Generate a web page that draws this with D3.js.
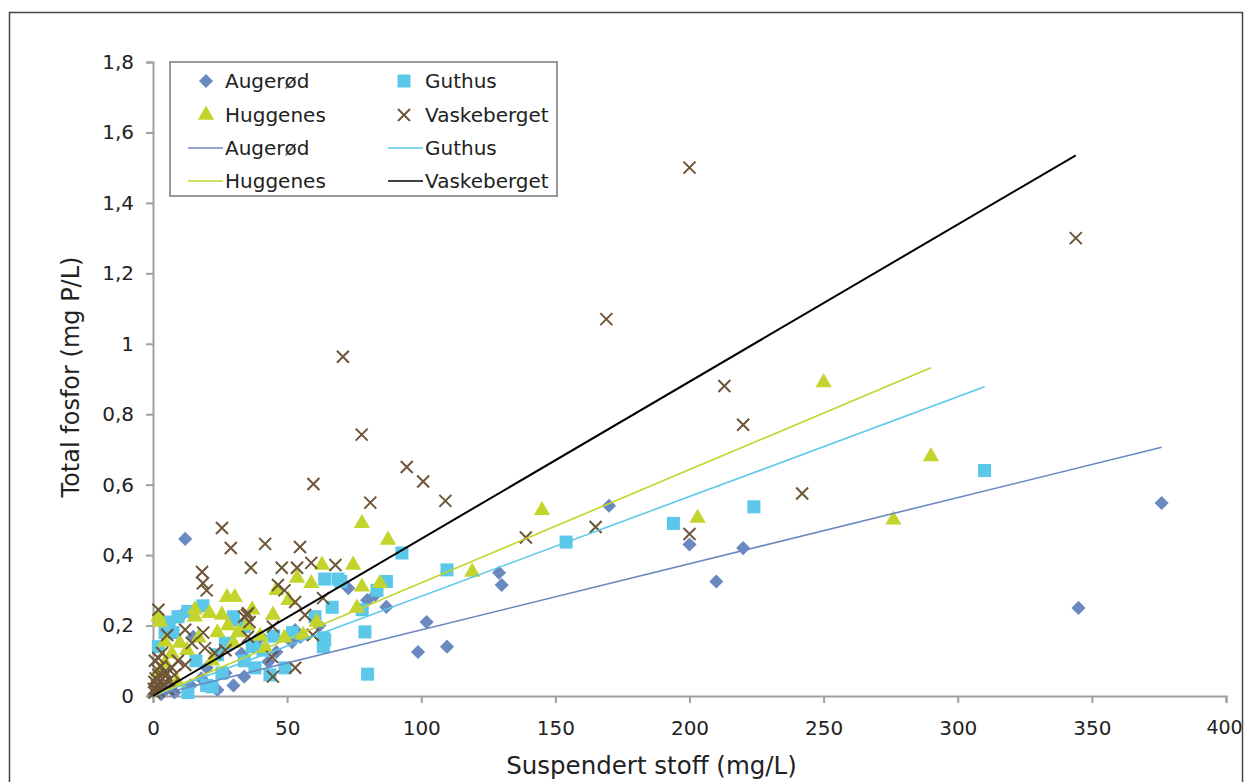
<!DOCTYPE html>
<html>
<head>
<meta charset="utf-8">
<script src="https://cdn.jsdelivr.net/npm/d3@7"></script>
<style>
  body { margin: 0; background: #fff; }
  text { font-family: "DejaVu Sans", sans-serif; fill: #222; }
</style>
</head>
<body>
<script>
// scatter data [suspended solids mg/L, total P mg P/L]
const augerod = [
  [12, 0.446], [9.3, 0.225], [10.8, 0.23], [15, 0.168], [27, 0.065], [24, 0.017],
  [33, 0.12], [34, 0.055], [30, 0.03], [8, 0.01], [72.8, 0.306], [79.8, 0.272],
  [82.8, 0.287], [87, 0.253], [102, 0.21], [98.8, 0.125], [109.6, 0.14], [53, 0.187],
  [55, 0.168], [51.8, 0.153], [46, 0.125], [39, 0.159], [43, 0.097], [129, 0.35],
  [130, 0.315], [170, 0.54], [200, 0.43], [210, 0.325], [220, 0.42], [345, 0.25],
  [376, 0.548], [5, 0.02], [18, 0.05], [20, 0.08], [40, 0.17], [62, 0.2], [14, 0.03], [3, 0.005]
];
const guthus = [
  [13, 0.24], [9.3, 0.225], [29.5, 0.215], [34, 0.197], [4.5, 0.18], [7.5, 0.18],
  [24, 0.117], [25.7, 0.065], [22, 0.026], [13, 0.01], [34, 0.1], [37, 0.14], [2, 0.14],
  [18.6, 0.256], [6, 0.21], [64, 0.332], [69, 0.332], [70, 0.325], [83.5, 0.3],
  [87, 0.325], [66.8, 0.252], [78, 0.245], [79, 0.182], [63.5, 0.165], [63.5, 0.14],
  [80, 0.062], [109.6, 0.358], [92.8, 0.406], [60.4, 0.225], [64, 0.159], [38, 0.08],
  [43.6, 0.06], [49.2, 0.08], [154, 0.437], [194, 0.49], [224, 0.537], [310, 0.64],
  [30, 0.225], [45, 0.17], [20, 0.03], [16, 0.1], [27, 0.15], [41, 0.13], [52, 0.18]
];
const huggenes = [
  [2.6, 0.21], [15.6, 0.225], [25.7, 0.23], [21, 0.235], [4.5, 0.153], [10, 0.15],
  [12.7, 0.13], [17, 0.165], [24, 0.18], [28, 0.2], [31.7, 0.18], [7, 0.12], [4.5, 0.093],
  [2, 0.065], [27.6, 0.28], [30.5, 0.28], [15.6, 0.245], [2, 0.225], [63, 0.372],
  [74.6, 0.372], [53.7, 0.335], [59, 0.32], [46, 0.3], [50.5, 0.272], [37, 0.245],
  [44.7, 0.23], [77.9, 0.31], [84.6, 0.32], [76, 0.25], [61, 0.21], [56, 0.173],
  [49, 0.165], [41.8, 0.136], [77.9, 0.49], [87.6, 0.443], [119, 0.352], [145, 0.527],
  [203, 0.505], [250, 0.89], [276, 0.5], [290, 0.68], [35, 0.2], [22, 0.1], [30, 0.15],
  [40, 0.17], [9, 0.04]
];
const vaskeberget = [
  [200, 1.5], [344, 1.3], [169, 1.07], [70.8, 0.963], [213, 0.88], [77.8, 0.742],
  [220, 0.77], [94.6, 0.65], [100.7, 0.609], [59.8, 0.602], [242, 0.575], [81, 0.549],
  [109, 0.554], [139, 0.45], [165, 0.48], [200, 0.46], [25.7, 0.477], [29, 0.42],
  [41.8, 0.432], [54.8, 0.423], [36.5, 0.364], [18.3, 0.352], [18.6, 0.32], [20, 0.3],
  [2, 0.245], [35, 0.23], [48, 0.364], [53.7, 0.364], [59, 0.378], [68, 0.372],
  [46.6, 0.315], [49, 0.3], [53, 0.267], [63.4, 0.278], [35.4, 0.235], [36, 0.21],
  [44.7, 0.197], [59.6, 0.173], [56.7, 0.23], [44.4, 0.111], [53, 0.08], [44.7, 0.055],
  [35.4, 0.168], [5.3, 0.173], [2, 0.108], [3.4, 0.122], [12, 0.188], [14.5, 0.15],
  [19.4, 0.136], [23, 0.122], [18.7, 0.18], [34, 0.225], [27, 0.13], [9.3, 0.1],
  [7, 0.08], [12, 0.088], [0.7, 0.1],
  [0.5, 0.01], [1, 0.02], [1.5, 0.03], [2, 0.015], [2.5, 0.04], [3, 0.025], [3.5, 0.05],
  [4, 0.035], [1, 0.05], [0.5, 0.04], [5, 0.06], [6, 0.045], [4.5, 0.07], [2, 0.06],
  [7, 0.03], [1.5, 0.075], [3, 0.085], [0.3, 0.02], [5.5, 0.02], [8, 0.06]
];

// linear trend lines, start and end points
const trendAugerod = [[0, 0], [376, 0.706]];
const trendGuthus = [[0, 0], [310, 0.878]];
const trendHuggenes = [[0, 0], [290, 0.932]];
const trendVaskeberget = [[0, 0], [344, 1.535]];

const xTicks = [0, 50, 100, 150, 200, 250, 300, 350, 400];
const yTicks = [0, 0.2, 0.4, 0.6, 0.8, 1, 1.2, 1.4, 1.6, 1.8];

const names = ['Augerød', 'Guthus', 'Huggenes', 'Vaskeberget'];
const colors = {
  'Augerød': '#6a89c1', 'Guthus': '#5bc8ea', 'Huggenes': '#c3d42c', 'Vaskeberget': '#6e5538'
};
const lineColors = {
  'Augerød': '#6a89c1', 'Guthus': '#5bc8ea', 'Huggenes': '#c3d42c', 'Vaskeberget': '#000000'
};

const W = 1244, H = 782;
const margin = { top: 62, right: 18, bottom: 86, left: 153 };
const width = W - margin.left - margin.right;
const height = H - margin.top - margin.bottom;

const svg = d3.select('body').append('svg')
  .attr('width', W)
  .attr('height', H);

// outer frame
svg.append('rect')
  .attr('x', 9.5).attr('y', 12.5)
  .attr('width', 1233).attr('height', 790)
  .attr('fill', 'none')
  .attr('stroke', '#444')
  .attr('stroke-width', 1.5);

const x = d3.scaleLinear().domain([0, 400]).range([0, width]);
const y = d3.scaleLinear().domain([0, 1.8]).range([height, 0]);

const group = svg.append('g')
  .attr('transform', `translate(${margin.left},${margin.top})`);

const fmt = d => d3.format('.1f')(d).replace('.', ',').replace(',0', '');

// axes
const yAxis = group.append('g')
  .call(d3.axisLeft(y).tickValues(yTicks).tickSize(7).tickPadding(12).tickFormat(fmt));
const xAxis = group.append('g')
  .attr('transform', `translate(0,${height})`)
  .call(d3.axisBottom(x).tickValues(xTicks).tickSize(7).tickPadding(18).tickFormat(d3.format('d')));

[xAxis, yAxis].forEach((a) => {
  a.selectAll('path, line').attr('stroke', '#a0a0a0').attr('stroke-width', 2);
  a.selectAll('text').attr('font-size', '20px').style('fill', '#222');
});
// keep the last x label inside the frame
xAxis.selectAll('.tick text').filter(d => d === 400).attr('font-size', '19px').attr('dx', '-2');

// markers
const symbolPath = {
  'Augerød': d3.symbol(d3.symbolSquare, 100)(),
  'Guthus': d3.symbol(d3.symbolSquare, 170)(),
  'Huggenes': d3.symbol(d3.symbolTriangle, 115)(),
  'Vaskeberget': 'M-6,-6L6,6M-6,6L6,-6'
};

function drawMarker(sel, name) {
  sel.attr('d', symbolPath[name]);
  if (name === 'Vaskeberget') {
    sel.attr('fill', 'none').attr('stroke', colors[name]).attr('stroke-width', 2);
  } else {
    sel.attr('fill', colors[name]);
  }
  return sel;
}

const seriesData = {
  'Augerød': augerod, 'Guthus': guthus, 'Huggenes': huggenes, 'Vaskeberget': vaskeberget
};
const trendData = {
  'Augerød': trendAugerod, 'Guthus': trendGuthus, 'Huggenes': trendHuggenes, 'Vaskeberget': trendVaskeberget
};

names.forEach((name) => {
  group.append('g').selectAll('path')
    .data(seriesData[name])
    .enter().append('path')
    .call(drawMarker, name)
    .attr('transform', d => `translate(${x(d[0])},${y(d[1])})${name === 'Augerød' ? ' rotate(45)' : ''}`);
});

const line = d3.line().x(d => x(d[0])).y(d => y(d[1]));
names.forEach((name) => {
  group.append('path')
    .datum(trendData[name])
    .attr('d', line)
    .attr('fill', 'none')
    .attr('stroke', lineColors[name])
    .attr('stroke-width', name === 'Vaskeberget' ? 2 : 1.6);
});

// axis titles
svg.append('text')
  .attr('transform', `translate(${margin.left + width / 2 - 38},774)`)
  .style('text-anchor', 'middle')
  .attr('font-size', '24.5px')
  .text('Suspendert stoff (mg/L)');

svg.append('text')
  .attr('transform', 'rotate(-90)')
  .attr('x', -377)
  .attr('y', 79)
  .style('text-anchor', 'middle')
  .attr('font-size', '24px')
  .text('Total fosfor (mg P/L)');

// legend
const legend = svg.append('g');
legend.append('rect')
  .attr('x', 170).attr('y', 62)
  .attr('width', 387).attr('height', 134)
  .attr('fill', '#fff')
  .attr('stroke', '#999')
  .attr('stroke-width', 2);

const rows = [81, 115, 148, 181];
const colMarker = [206, 404];
const colText = [225, 425];
names.forEach((name, i) => {
  const c = i % 2;
  const r = Math.floor(i / 2);
  legend.append('path')
    .call(drawMarker, name)
    .attr('transform', `translate(${colMarker[c]},${rows[r]})${name === 'Augerød' ? ' rotate(45)' : ''}`);
  legend.append('text')
    .attr('x', colText[c]).attr('y', rows[r])
    .attr('dy', '0.35em')
    .attr('font-size', '20px')
    .text(name);

  legend.append('line')
    .attr('x1', colText[c] - 37).attr('x2', colText[c] - 2)
    .attr('y1', rows[r + 2]).attr('y2', rows[r + 2])
    .attr('stroke', lineColors[name])
    .attr('stroke-width', 1.6);
  legend.append('text')
    .attr('x', colText[c]).attr('y', rows[r + 2])
    .attr('dy', '0.35em')
    .attr('font-size', '20px')
    .text(name);
});
</script>
</body>
</html>
